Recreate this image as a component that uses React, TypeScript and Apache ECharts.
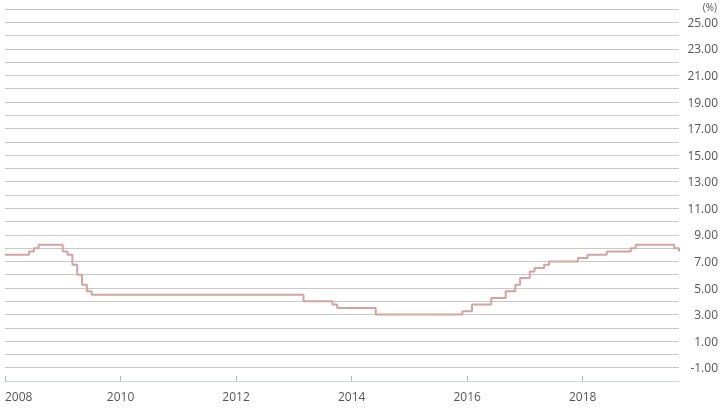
import React, { useEffect, useRef } from "react";
import * as echarts from "echarts";

// Policy rate changes (month the new rate took effect)
const changeMonths = [
  "2008-01", "2008-06", "2008-07", "2008-08",
  "2009-01", "2009-02", "2009-03", "2009-04", "2009-05", "2009-06", "2009-07",
  "2013-03", "2013-09", "2013-10", "2014-06",
  "2015-12", "2016-02", "2016-06", "2016-09", "2016-11", "2016-12",
  "2017-02", "2017-03", "2017-05", "2017-06", "2017-12",
  "2018-02", "2018-06", "2018-11", "2018-12",
  "2019-08", "2019-09",
];
const rates = [
  7.5, 7.75, 8.0, 8.25,
  7.75, 7.5, 6.75, 6.0, 5.25, 4.75, 4.5,
  4.0, 3.75, 3.5, 3.0,
  3.25, 3.75, 4.25, 4.75, 5.25, 5.75,
  6.25, 6.5, 6.75, 7.0, 7.25,
  7.5, 7.75, 8.0, 8.25,
  8.0, 7.75,
];
const xTickYears = [2008, 2010, 2012, 2014, 2016, 2018];
const xStart = "2008-01";
const xEnd = "2019-09";
const yMin = -2;
const yMax = 26;

const toYear = (ym: string) => {
  const [y, m] = ym.split("-").map(Number);
  return y + (m - 1) / 12;
};

export default function App() {
  const ref = useRef<HTMLDivElement>(null);
  useEffect(() => {
    if (!ref.current) return;
    const chart = echarts.init(ref.current, null, { renderer: "svg" });
    const data = changeMonths.map((m, i) => [toYear(m), rates[i]]);
    const font = "'Open Sans', sans-serif";
    chart.setOption({
      animation: false,
      grid: { left: 5, right: 47, top: 9, bottom: 33, containLabel: false },
      xAxis: {
        type: "value",
        min: toYear(xStart),
        max: toYear(xEnd),
        interval: 2,
        axisLine: { show: true, onZero: false, lineStyle: { color: "#ccd6eb", width: 1 } },
        axisTick: {
          show: true,
          inside: true,
          length: 5,
          lineStyle: { color: "#aab4c4" },
          customValues: xTickYears,
        },
        axisLabel: {
          customValues: xTickYears,
          formatter: (v: number) => String(Math.round(v)),
          color: "#555",
          fontFamily: font,
          fontSize: 12,
          margin: 9,
          alignMinLabel: "left",
        },
        splitLine: { show: false },
      },
      yAxis: {
        type: "value",
        position: "right",
        min: yMin,
        max: yMax,
        interval: 1,
        axisLine: { show: false },
        axisTick: { show: false },
        splitLine: { show: true, lineStyle: { color: "#c8c8c8", width: 1 } },
        axisLabel: {
          formatter: (v: number) => (Math.abs(v % 2) === 1 ? v.toFixed(2) : ""),
          color: "#555",
          fontFamily: font,
          fontSize: 12,
          align: "right",
          margin: 39,
        },
      },
      graphic: [
        {
          type: "text",
          x: 717,
          y: 7,
          style: {
            text: "(%)",
            fill: "#555",
            font: "10px 'Open Sans', sans-serif",
            align: "right",
            verticalAlign: "middle",
          },
        },
      ],
      series: [
        {
          type: "line",
          step: "end",
          data,
          showSymbol: false,
          lineStyle: { color: "#d4a3a3", width: 2 },
          itemStyle: { color: "#d4a3a3" },
        },
      ],
    });
    return () => chart.dispose();
  }, []);
  return (
    <div
      ref={ref}
      style={{ position: "fixed", left: 0, top: 0, width: 726, height: 414 }}
    />
  );
}
